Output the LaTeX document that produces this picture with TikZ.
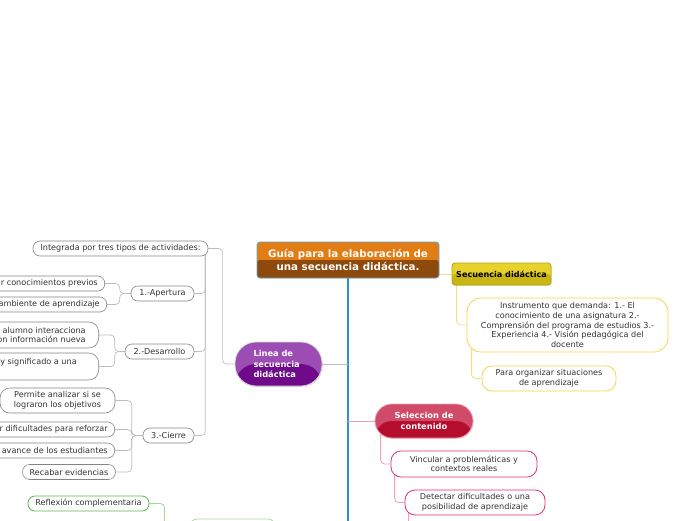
\documentclass[tikz,border=0pt]{standalone}
\usepackage{fontspec}
\setmainfont{DejaVu Sans}
\usetikzlibrary{backgrounds, shadows}

\definecolor{rootTop}{HTML}{E27C14}
\definecolor{rootBot}{HTML}{8E4A0C}
\definecolor{rootLine}{HTML}{5FA8D8}
\definecolor{spineBlue}{HTML}{2A92D4}
\definecolor{lineaTop}{HTML}{9C4DB4}
\definecolor{lineaBot}{HTML}{6F0B8B}
\definecolor{selecTop}{HTML}{CF4B67}
\definecolor{selecBot}{HTML}{B50D2E}
\definecolor{secuTop}{HTML}{E6D22A}
\definecolor{secuBot}{HTML}{C9B514}
\definecolor{secuLine}{HTML}{B5A30C}
\definecolor{leafGray}{HTML}{858585}
\definecolor{lineGray}{HTML}{BDBDBD}
\definecolor{textGray}{HTML}{333333}
\definecolor{yleafLine}{HTML}{F2D84A}
\definecolor{ylineCol}{HTML}{F1E08A}
\definecolor{pleafLine}{HTML}{E0336A}
\definecolor{plineCol}{HTML}{F0A0B8}
\definecolor{gleafLine}{HTML}{5DB54E}
\definecolor{glineCol}{HTML}{A8D8A0}

\begin{document}
\begin{tikzpicture}[x=1pt, y=-1pt,
  font=\fontsize{8.1}{9.6}\selectfont,
  lowhalf/.style={path picture={\fill[#1] (path picture bounding box.west)
                  rectangle (path picture bounding box.south east);}},
  root/.style={rectangle, rounded corners=3pt, draw=rootLine, line width=0.9pt, fill=rootTop,
               lowhalf=rootBot, text=white, font=\fontsize{10.3}{12.5}\selectfont\bfseries,
               align=center, minimum width=182pt, minimum height=36pt, inner sep=1pt},
  mainpill/.style={rectangle, draw=black!15, line width=0.8pt, text=white,
                   font=\fontsize{8.3}{10.8}\selectfont\bfseries, inner sep=1pt,
                   drop shadow={opacity=0.2, shadow xshift=0.8pt, shadow yshift=-1.2pt}},
  secubox/.style={rectangle, rounded corners=3pt, draw=secuLine, line width=0.8pt, fill=secuTop,
                  lowhalf=secuBot, text=black, font=\fontsize{8.1}{9.6}\selectfont\bfseries,
                  minimum width=99pt, minimum height=22pt, inner sep=1pt,
                  drop shadow={opacity=0.2, shadow xshift=0.8pt, shadow yshift=-1.2pt}},
  leaf/.style={rectangle, rounded corners=7pt, draw=leafGray, line width=0.6pt, fill=white,
               text=textGray, align=center, minimum height=15pt, inner xsep=7pt, inner ysep=1.5pt},
  yleaf/.style={leaf, draw=yleafLine, line width=0.8pt},
  pleaf/.style={leaf, draw=pleafLine, line width=0.8pt},
  gleaf/.style={leaf, draw=gleafLine, line width=0.8pt},
  gline/.style={draw=lineGray, line width=0.7pt, rounded corners=4pt},
  yline/.style={draw=ylineCol, line width=0.8pt, rounded corners=4pt},
  pline/.style={draw=plineCol, line width=0.8pt, rounded corners=4pt},
  grline/.style={draw=glineCol, line width=0.8pt, rounded corners=4pt},
  spine/.style={draw=spineBlue, line width=2.4pt}]

  \useasboundingbox (0, 0) rectangle (696, 520);

  \node[root] at (348, 260) (root) {Guía para la elaboración de\\ una secuencia didáctica.};
  \coordinate (spineend) at (348, 526);

  \node[mainpill, rounded corners=21pt, fill=lineaTop, lowhalf=lineaBot, minimum width=87pt,
        minimum height=44pt, text width=50pt, align=left] at (278.5, 364) (linea)
    {Linea de\\ secuencia\\ didáctica};

  \node[leaf, minimum width=175pt] at (120.5, 248.5) (integ) {Integrada por tres tipos de actividades:};
  \node[leaf, minimum width=63pt]  at (162.5, 293.5) (apert) {1.-Apertura};
  \node[leaf, minimum width=69pt]  at (159.5, 351.5) (desarr) {2.-Desarrollo};
  \node[leaf, minimum width=51pt]  at (168.5, 435.5) (cierre) {3.-Cierre};

  \node[leaf, anchor=east] at (105, 283.5) (prev) {Recuperar conocimientos previos};
  \node[leaf, anchor=east] at (107, 304.5) (amb) {Crear un ambiente de aprendizaje};

  \node[leaf, anchor=east, rounded corners=10pt, minimum height=26pt, inner xsep=13pt] at (99, 335) (inter)
    {El alumno interacciona\\ con información nueva};
  \node[leaf, anchor=east, rounded corners=10pt, minimum height=27pt, align=left, inner xsep=22pt]
    at (99, 366.5) (sentido) {Le da sentido y significado a una\\ tarea};

  \node[leaf, rounded corners=10pt, minimum width=115pt, minimum height=25pt] at (57.5, 400.5) (analiz)
    {Permite analizar si se\\ lograron los objetivos};
  \node[leaf, anchor=east] at (115, 429.5) (dific) {Identificar dificultades para reforzar};
  \node[leaf, anchor=east] at (115, 450.5) (avance) {Valorar el avance de los estudiantes};
  \node[leaf, minimum width=92pt] at (69, 472) (evid) {Recabar evidencias};

  \node[gleaf, minimum width=121pt] at (88.5, 503.5) (reflex) {Reflexión complementaria};
  \node[gleaf, draw=glineCol, minimum width=85pt, minimum height=22pt] at (232.5, 530) (reflroot) {};

  \node[secubox] at (501.5, 274) (secu) {Secuencia didáctica};
  \node[yleaf, rounded corners=14pt, minimum width=201pt, minimum height=54pt] at (567.5, 325) (instr)
    {Instrumento que demanda: 1.- El\\ conocimiento de una asignatura 2.-\\
     Comprensión del programa de estudios 3.-\\ Experiencia 4.- Visión pedagógica del\\ docente};
  \node[yleaf, rounded corners=10pt, minimum width=134pt, minimum height=25pt] at (549, 378.5) (organ)
    {Para organizar situaciones\\ de aprendizaje};

  \node[mainpill, rounded corners=17pt, fill=selecTop, lowhalf=selecBot, draw=plineCol,
        minimum width=98pt, minimum height=34pt, align=center] at (424, 421) (selec)
    {Seleccion de\\ contenido};
  \node[pleaf, rounded corners=10pt, minimum width=146pt, minimum height=26pt] at (464, 464) (vincul)
    {Vincular a problemáticas y\\ contextos reales};
  \node[pleaf, rounded corners=10pt, minimum width=140pt, minimum height=25pt] at (475, 502.5) (detect)
    {Detectar dificultades o una\\ posibilidad de aprendizaje};

  \begin{scope}[on background layer]
    \draw[spine] (root.south) -- (spineend);
    \draw[gline] (linea.east) -- (linea.east -| spineend);
    \draw[gline] (linea.west) -- ++(-12, 0) |- (integ.east);
    \draw[gline] (integ.east) ++(-3, 0) |- (apert.east);
    \draw[gline] (integ.east) ++(-3, 0) |- (desarr.east);
    \draw[gline] (integ.east) ++(-3, 0) |- (cierre.east);
    \draw[gline] (apert.west) -- ++(-11, 0) |- (prev.east);
    \draw[gline] (apert.west) -- ++(-11, 0) |- (amb.east);
    \draw[gline] (desarr.west) -- ++(-10, 0) |- (inter.east);
    \draw[gline] (desarr.west) -- ++(-10, 0) |- (sentido.east);
    \draw[gline] (cierre.west) -- ++(-11, 0) |- (analiz.east);
    \draw[gline] (cierre.west) -- ++(-11, 0) |- (dific.east);
    \draw[gline] (cierre.west) -- ++(-11, 0) |- (avance.east);
    \draw[gline] (cierre.west) -- ++(-11, 0) |- (evid.east);
    \draw[grline] (reflex.east) -- ++(15, 0) -- ++(0, 25);
    \draw[yline] (root.east |- secu.west) -- (secu.west);
    \draw[yline] ([xshift=5pt]secu.west) |- (instr.west);
    \draw[yline] ([xshift=5pt]instr.west) |- (organ.west);
    \draw[pline] (selec.west -| spineend) -- (selec.west);
    \draw[pline] ([xshift=6pt]selec.west) |- (vincul.west);
    \draw[pline] ([xshift=4pt]vincul.west) |- (detect.west);
    \draw[pline] ([xshift=4pt]detect.west) -- ++(0, 25);
  \end{scope}

\end{tikzpicture}
\end{document}
